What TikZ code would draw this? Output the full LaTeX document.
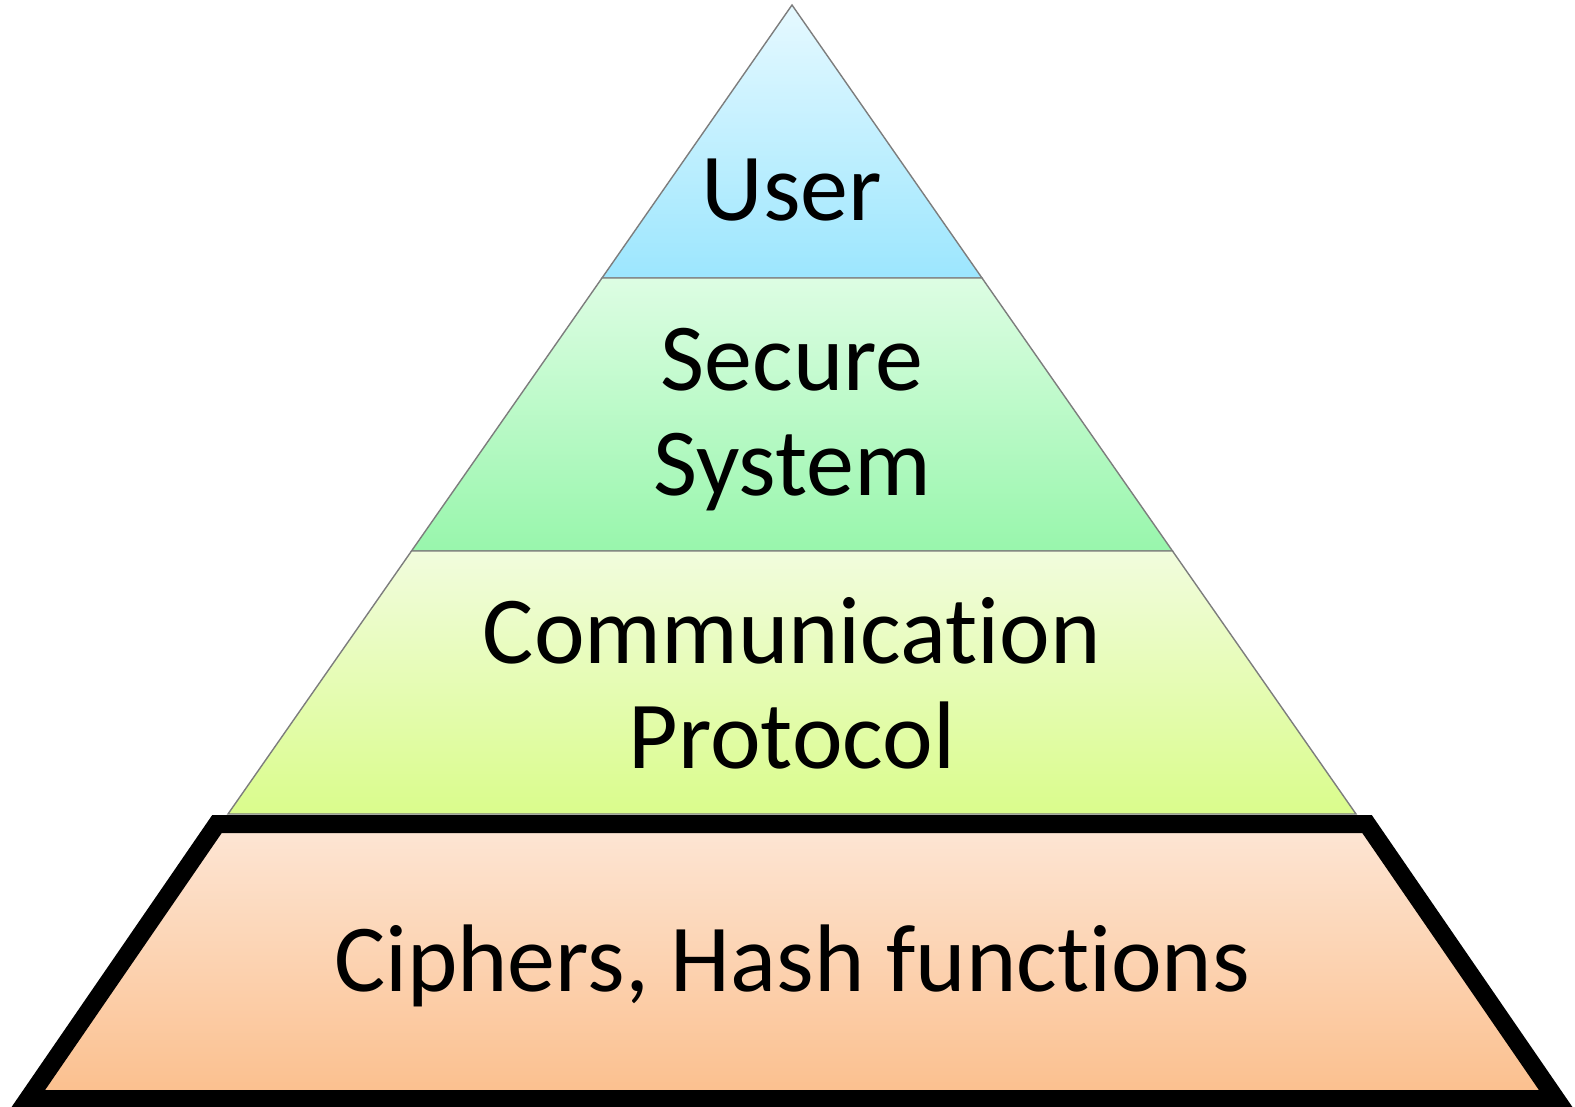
\documentclass[tikz,border=0pt]{standalone}
\usepackage{fontspec}
\setmainfont{Carlito}[Ligatures=NoCommon]
\definecolor{userTop}{RGB}{230,249,255}
\definecolor{userBot}{RGB}{156,230,254}
\definecolor{sysTop}{RGB}{221,253,227}
\definecolor{sysBot}{RGB}{152,246,172}
\definecolor{protTop}{RGB}{241,252,221}
\definecolor{protBot}{RGB}{218,252,140}
\definecolor{ciphTop}{RGB}{253,230,213}
\definecolor{ciphBot}{RGB}{251,191,141}
\definecolor{edgeGray}{RGB}{125,125,125}
\begin{document}
\begin{tikzpicture}[x=1pt,y=-1pt,
  tier/.style={draw=edgeGray,line width=1.4pt,line join=miter},
  basetier/.style={draw=black,line width=18pt,line join=miter},
  label/.style={font=\fontsize{96}{104.5}\selectfont,align=center,inner sep=0pt}]
\useasboundingbox (0,0) rectangle (1575,1107);
% pyramid tiers, top to bottom
\path[tier,top color=userTop,bottom color=userBot]
  (792,5) -- (982,278) -- (602,278) -- cycle;
\path[tier,top color=sysTop,bottom color=sysBot]
  (602,278) -- (982,278) -- (1172.5,551) -- (411.5,551) -- cycle;
\path[tier,top color=protTop,bottom color=protBot]
  (411.5,551) -- (1172.5,551) -- (1356,814) -- (228,814) -- cycle;
\path[basetier,top color=ciphTop,bottom color=ciphBot]
  (217,824) -- (1367,824) -- (1556,1099) -- (28,1099) -- cycle;
% labels (base anchor sits on the last line's baseline)
\node[label,anchor=base] (user) at (792,221) {User};
\node[label,anchor=base] (sys) at (792,495) {Secure\\System};
\node[label,anchor=base] (prot) at (792,768) {Communication\\Protocol};
\node[label,anchor=base] (ciph) at (792,991) {Ciphers, Hash functions};
\end{tikzpicture}
\end{document}
